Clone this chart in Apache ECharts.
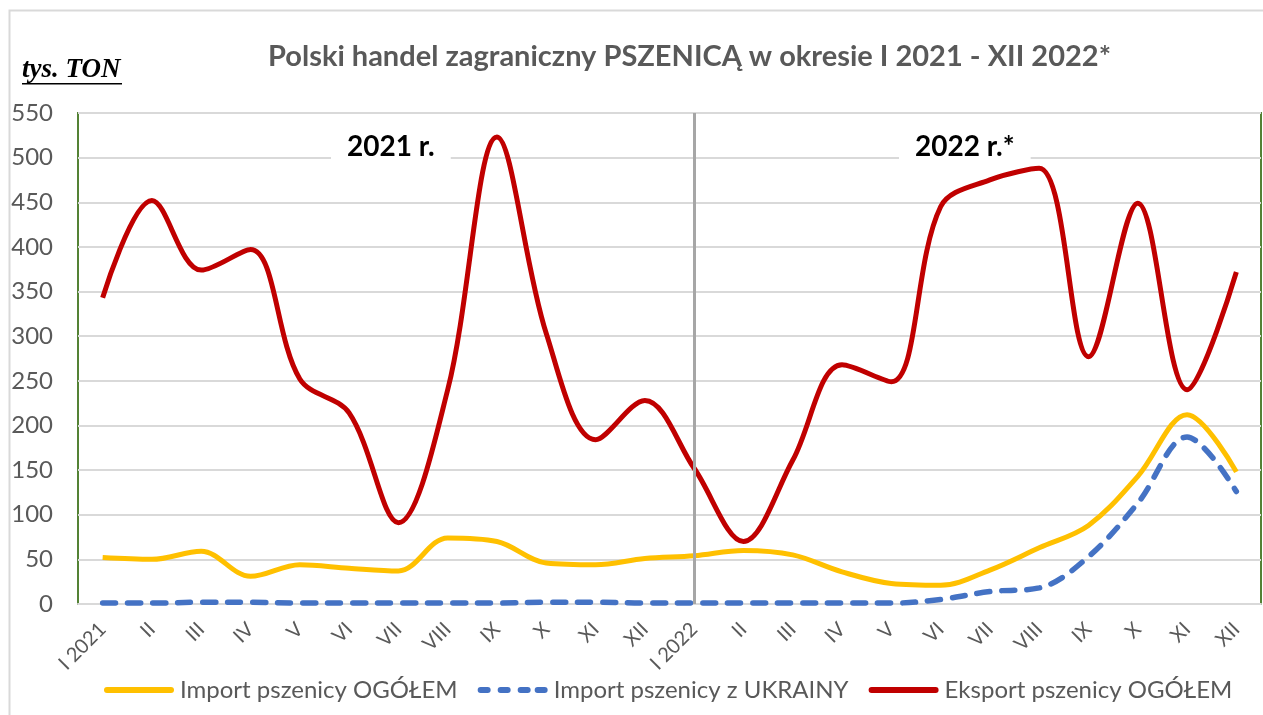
<!DOCTYPE html>
<html>
<head>
<meta charset="utf-8">
<script src="https://cdn.jsdelivr.net/npm/echarts@6/dist/echarts.min.js"></script>
<style>
  html, body { margin: 0; padding: 0; background: #fff; }
  #chart { width: 1263px; height: 715px; }
</style>
</head>
<body>
<div id="chart"></div>
<script>
  // miesiace I 2021 - XII 2022
  var months = ['I 2021','II','III','IV','V','VI','VII','VIII','IX','X','XI','XII',
                'I 2022','II','III','IV','V','VI','VII','VIII','IX','X','XI','XII']
  // tys. ton
  var importTotal = [52, 50, 59, 31, 44, 40, 37, 74, 70, 46, 44, 51,
                     54, 60, 55, 36, 23, 21, 38, 63, 88, 143, 212, 148]
  var importUkraine = [1, 1, 2, 2, 1, 1, 1, 1, 1, 2, 2, 1,
                       1, 1, 1, 1, 1, 5, 14, 18, 53, 113, 187, 126]
  var exportTotal = [343, 452, 374, 397, 252, 214, 91, 240, 523, 303, 184, 228,
                     152, 70, 161, 268, 249, 445, 475, 488, 277, 449, 240, 372]
  var seriesNames = ['Import pszenicy OGÓŁEM', 'Import pszenicy z UKRAINY', 'Eksport pszenicy OGÓŁEM']

  var font = 'Lato, "Open Sans", sans-serif'
  // ikonki legendy: linia ciagla i przerywana
  var solidIcon = 'path://M3,0h64a3,3 0 0 1 0,6h-64a3,3 0 0 1 0,-6z'
  var dashIcon = 'path://M3,0h7a3,3 0 0 1 0,6h-7a3,3 0 0 1 0,-6z M23,0h7a3,3 0 0 1 0,6h-7a3,3 0 0 1 0,-6z M43,0h7a3,3 0 0 1 0,6h-7a3,3 0 0 1 0,-6z M60,0h7a3,3 0 0 1 0,6h-7a3,3 0 0 1 0,-6z'

  var chart = echarts.init(document.getElementById('chart'))
  var option = {
    animation: false,
    textStyle: { fontFamily: font },
    title: {
      text: 'Polski handel zagraniczny PSZENICĄ w okresie I 2021 - XII 2022*',
      left: 263,
      top: 37,
      textStyle: { fontSize: 29, fontWeight: 'bold', color: '#595959', fontFamily: font }
    },
    legend: {
      bottom: 8,
      left: 99,
      itemWidth: 72,
      itemHeight: 6,
      itemGap: 20,
      textStyle: { fontSize: 24, color: '#595959', fontFamily: font },
      data: [
        { name: seriesNames[0], icon: solidIcon },
        { name: seriesNames[1], icon: dashIcon },
        { name: seriesNames[2], icon: solidIcon }
      ]
    },
    grid: {
      left: 78, top: 113, right: 2, bottom: 111,
      show: true, borderColor: '#548235', borderWidth: 2, backgroundColor: 'transparent'
    },
    xAxis: {
      type: 'category',
      data: months,
      boundaryGap: true,
      axisLine: { lineStyle: { color: '#d9d9d9', width: 2 } },
      axisTick: { show: false },
      axisLabel: { rotate: 45, fontSize: 20, color: '#595959', margin: 22, interval: 0 }
    },
    yAxis: {
      type: 'value',
      min: 0, max: 550, interval: 50,
      axisLine: { show: false },
      axisTick: { show: false },
      axisLabel: { fontSize: 24, color: '#595959', margin: 25 },
      splitLine: { lineStyle: { color: '#d9d9d9', width: 2 } }
    },
    graphic: [
      { type: 'rect', left: 7, top: 8, z: -1,
        shape: { width: 1262, height: 710 },
        style: { fill: 'none', stroke: '#d9d9d9', lineWidth: 2 } },
      { type: 'text', left: 22, top: 57,
        style: { text: 'tys. TON', font: 'italic bold 27px "Liberation Serif", serif', fill: '#000' } },
      { type: 'rect', left: 22, top: 83, shape: { width: 100, height: 1.5 }, style: { fill: '#000' } },
      { type: 'text', left: 331, top: 131, z: 10,
        style: { text: '2021 r.', font: 'bold 28px ' + font, fill: '#000',
                 backgroundColor: '#fff', padding: [2, 16, 2, 16] } },
      { type: 'text', left: 899, top: 131, z: 10,
        style: { text: '2022 r.*', font: 'bold 28px ' + font, fill: '#000',
                 backgroundColor: '#fff', padding: [2, 16, 2, 16] } }
    ],
    series: [
      {
        name: seriesNames[0], type: 'line', data: importTotal,
        smooth: 0.35, symbol: 'none',
        lineStyle: { color: '#ffc000', width: 5 }, itemStyle: { color: '#ffc000' },
        z: 3
      },
      {
        name: seriesNames[1], type: 'line', data: importUkraine,
        smooth: 0.35, symbol: 'none',
        lineStyle: { color: '#4472c4', width: 5.5, type: [13, 12], cap: 'round' }, itemStyle: { color: '#4472c4' },
        z: 4
      },
      {
        name: seriesNames[2], type: 'line', data: exportTotal,
        smooth: 0.35, symbol: 'none',
        lineStyle: { color: '#c00000', width: 5 }, itemStyle: { color: '#c00000' },
        z: 2,
        markLine: {
          silent: true, symbol: 'none', label: { show: false },
          lineStyle: { color: '#a6a6a6', width: 3, type: 'solid' },
          data: [{ xAxis: 'I 2022' }]
        }
      }
    ]
  }
  chart.setOption(option)
</script>
</body>
</html>
